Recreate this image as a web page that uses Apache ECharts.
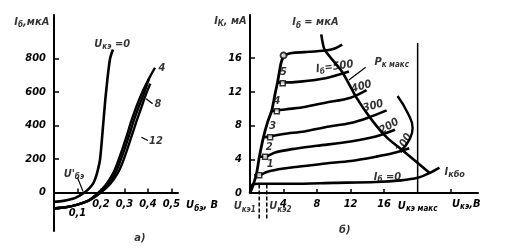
<!DOCTYPE html>
<html><head><meta charset="utf-8">
<script src="https://cdn.jsdelivr.net/npm/echarts@6/dist/echarts.min.js"></script>
<style>html,body{margin:0;padding:0;background:#fff}#c{width:511px;height:249px}</style>
</head><body><div id="c"></div>
<script>
// ---------- chart а) : I_б vs U_бэ ----------
const aXTickValues = [0.1, 0.2, 0.3, 0.4, 0.5];
const aXTickLabels = ['0,1', '0,2', '0,3', '0,4', '0,5'];
const aYTickValues = [0, 200, 400, 600, 800];
const aYTickLabels = ['0', '200', '400', '600', '800'];
const aCurveU0 = [[0,-55],[0.04,-50],[0.08,-38],[0.11,-18],[0.13,0],[0.15,25],[0.165,50],[0.175,80],[0.185,125],[0.196,197],[0.209,400],[0.221,590],[0.238,794],[0.251,854]];
const aCurveU4 = [[0,-95],[0.05,-88],[0.1,-72],[0.15,-45],[0.19,0],[0.22,45],[0.25,110],[0.27,175],[0.29,255],[0.31,340],[0.33,430],[0.35,510],[0.37,580],[0.39,640],[0.41,695],[0.43,745]];
const aCurveU8 = [[0,-95],[0.05,-88],[0.1,-72],[0.15,-46],[0.195,0],[0.23,50],[0.26,112],[0.28,178],[0.3,258],[0.32,342],[0.34,430],[0.36,508],[0.38,580],[0.395,640],[0.405,680]];
const aCurveU12 = [[0,-95],[0.05,-88],[0.1,-72],[0.15,-47],[0.2,0],[0.24,52],[0.27,112],[0.29,172],[0.31,250],[0.33,335],[0.35,420],[0.37,500],[0.39,580],[0.41,650]];
const aLeaderUbe = [[0.1,90],[0.124,5]];
const aLeader8 = [[0.392,560],[0.42,530]];
const aLeader12 = [[0.372,330],[0.4,310]];
const aTexts = [
  [-0.02, 1020, 'I{s|б},мкА', 'right', 0],
  [0.248, 885, 'U{s|кэ} =0', 'center', 0],
  [0.445, 745, '4', 'left', 0],
  [0.428, 525, '8', 'left', 0],
  [0.405, 305, '12', 'left', 0],
  [0.085, 108, "U'{s|бэ}", 'center', 0],
  [0.366, -270, 'а)', 'center', 0]
];
const aXName = 'U{s|бэ}, В';

// ---------- chart б) : I_к vs U_кэ ----------
const bXTickValues = [4, 8, 12, 16, 20];
const bXTickLabels = ['4', '8', '12', '16', 'U{s|кэ макс}'];
const bXTickMarks = [4, 8, 12, 16, 24];
const bYTickValues = [0, 4, 8, 12, 16];
const bYTickLabels = ['0', '4', '8', '12', '16'];
const bBoundary = [[0,0],[0.4,1.0],[0.8,2.4],[1.1,4.2],[1.6,6.6],[2.1,8.4],[2.6,9.8],[3.0,11.8],[3.3,13.2],[3.7,15.4],[4,16.3]];
const bCurveTop = [[4,16.3],[5,16.6],[6.5,16.7],[9,16.9],[10,17.1],[11,17.6]];
const bCurve500 = [[3.3,13.1],[3.9,13.1],[6,13.2],[9,13.6],[11.8,14.4]];
const bCurve400 = [[2.6,9.7],[3.2,9.8],[5,10.0],[6.5,10.2],[9,10.7],[12,11.3],[13.9,12.2]];
const bCurve300 = [[1.6,6.6],[2.4,6.7],[4,7.0],[6.5,7.3],[9,7.8],[12,8.3],[14,8.9],[16.3,9.8]];
const bCurve200 = [[1.1,4.3],[1.8,4.3],[3,4.8],[5,5.2],[8,5.6],[12,6.1],[15,6.7],[17.3,7.5]];
const bCurve100 = [[0.5,2.1],[1.1,2.1],[2,2.5],[4,2.9],[6.5,3.2],[9,3.5],[12,3.8],[15,4.3],[17,4.7],[19,5.3]];
const bCurve0 = [[0,0],[0.3,1.0],[1,1.1],[5,1.1],[10,1.2],[15,1.3],[18,1.5],[20,1.8],[21.5,2.4],[22.6,3.0]];
const bPkMax = [[8.5,18.8],[8.9,17.0],[11,14.35],[12.7,11.3],[14.5,8.7],[16.4,6.5],[18.4,4.9],[21.4,2.4]];
const bArc = [[17.6,11.5],[18.8,9.5],[19.4,7.7],[19.0,6.3],[18.1,5.1]];
const bUceMax = [[20,0],[20,17.8]];
const bDash1 = [[1.1,1.0],[1.1,-3.2]];
const bDash2 = [[2.0,1.0],[2.0,-3.2]];
const bPkLeader = [[13.8,14.9],[11.8,13.4]];
const bKneeSquares = [[1.1,2.1],[1.8,4.3],[2.4,6.6],[3.2,9.7],[3.9,13.0]];
const bKneeCircle = [[4,16.3]];
const bTexts = [
  [-0.4, 20.4, 'I{s|К}, мА', 'right', 0],
  [7.8, 20.2, 'I{s|б} = мкА', 'center', 0],
  [10.1, 14.95, 'I{s|б}=500', 'center', 8],
  [16.9, 15.5, 'P{s|к макс}', 'center', 0],
  [13.3, 12.6, '400', 'center', 15],
  [14.7, 10.3, '300', 'center', 15],
  [16.6, 7.9, '200', 'center', 30],
  [18.4, 5.9, '100', 'center', 60],
  [16.4, 1.9, 'I{s|б} =0', 'center', 0],
  [23.2, 2.5, 'I{m|кбо}', 'left', 0],
  [4.0, 14.3, '5', 'center', 0],
  [3.2, 10.9, '4', 'center', 0],
  [2.7, 7.9, '3', 'center', 0],
  [2.3, 5.4, '2', 'center', 0],
  [2.4, 3.4, '1', 'center', 0],
  [0.7, -1.6, 'U{s|кэ1}', 'right', 0],
  [2.3, -1.6, 'U{s|кэ2}', 'left', 0],
  [11.3, -4.4, 'б)', 'center', 0]
];
const bXName = 'U{s|кэ},В';

// ---------- styles ----------
const FONT = '"Liberation Sans Narrow","DejaVu Sans Condensed","Liberation Sans",sans-serif';
const txt = {color:'#000', fontFamily:FONT, fontStyle:'italic', fontWeight:'bold', fontSize:11};
const rich = {
  s: Object.assign({}, txt, {fontSize:8, padding:[6,0,0,0]}),
  m: Object.assign({}, txt, {fontSize:9, padding:[6,0,0,0]})
};
const axisLine = {show:true, onZero:true, lineStyle:{color:'#000', width:2}};

function ln(data, gi, w, extra) {
  return Object.assign({type:'line', xAxisIndex:gi, yAxisIndex:gi, data:data, showSymbol:false, symbol:'none',
    smooth:0.3, clip:false, animation:false, silent:true, lineStyle:{color:'#000', width:w}}, extra || {});
}
function texts(arr, gi) {
  return {type:'scatter', xAxisIndex:gi, yAxisIndex:gi, symbolSize:1, itemStyle:{color:'rgba(0,0,0,0)'}, clip:false,
    animation:false, silent:true, z:6,
    data: arr.map(t => ({value:[t[0], t[1]], label:Object.assign({show:true, position:'inside', formatter:t[2], align:t[3], verticalAlign:'middle', rotate:t[4], rich:rich}, txt)}))};
}

const chart = echarts.init(document.getElementById('c'), null, {renderer:'canvas'});
chart.setOption({
  backgroundColor:'#fff',
  animation:false,
  grid:[
    {left:54, top:15, width:124, height:216, containLabel:false, outerBoundsMode:'none'},
    {left:250, top:15, width:228, height:178, containLabel:false, outerBoundsMode:'none'}
  ],
  xAxis:[
    {gridIndex:0, type:'value', min:0, max:0.528, axisLine:axisLine, splitLine:{show:false},
     axisTick:{show:true, inside:true, length:4, lineStyle:{color:'#000', width:1.5}, customValues:aXTickValues},
     axisLabel:Object.assign({show:true, margin:-32, customValues:aXTickValues, rich:Object.assign({}, rich, {low:Object.assign({}, txt, {padding:[9,0,0,0]})}),
       formatter:(v)=>{const i=aXTickValues.findIndex(x=>Math.abs(x-v)<1e-6); const l=aXTickLabels[i]; return i===0?'{low|'+l+'}':l;}}, txt),
     name:aXName, nameLocation:'end', nameGap:5, nameTextStyle:Object.assign({rich:rich, padding:[26,0,0,0]}, txt)},
    {gridIndex:1, type:'value', min:0, max:27.2, axisLine:axisLine, splitLine:{show:false},
     axisTick:{show:true, inside:true, length:4, lineStyle:{color:'#000', width:1.5}, customValues:bXTickMarks},
     axisLabel:Object.assign({show:true, margin:6, customValues:bXTickValues, rich:rich,
       formatter:(v)=>bXTickLabels[bXTickValues.findIndex(x=>Math.abs(x-v)<1e-6)]}, txt),
     name:bXName, nameLocation:'end', nameGap:-26, nameTextStyle:Object.assign({rich:rich, padding:[22,0,0,0], align:'left'}, txt)}
  ],
  yAxis:[
    {gridIndex:0, type:'value', min:-230, max:1060, axisLine:axisLine, splitLine:{show:false},
     axisTick:{show:true, inside:true, length:5, lineStyle:{color:'#000', width:1.5}, customValues:[200,400,600,800]},
     axisLabel:Object.assign({show:true, margin:8, customValues:aYTickValues,
       formatter:(v)=>aYTickLabels[aYTickValues.findIndex(x=>Math.abs(x-v)<1e-6)]}, txt)},
    {gridIndex:1, type:'value', min:0, max:21.1, axisLine:axisLine, splitLine:{show:false},
     axisTick:{show:true, inside:true, length:5, lineStyle:{color:'#000', width:1.5}, customValues:[4,8,12,16]},
     axisLabel:Object.assign({show:true, margin:8, customValues:bYTickValues,
       formatter:(v)=>bYTickLabels[bYTickValues.findIndex(x=>Math.abs(x-v)<1e-6)]}, txt)}
  ],
  series:[
    ln(aCurveU0, 0, 2.6),
    ln(aCurveU4, 0, 2.4),
    ln(aCurveU8, 0, 2.4),
    ln(aCurveU12, 0, 2.4),
    ln(aLeaderUbe, 0, 1.2, {smooth:false}),
    ln(aLeader8, 0, 1.2, {smooth:false}),
    ln(aLeader12, 0, 1.2, {smooth:false}),
    texts(aTexts, 0),
    ln(bBoundary, 1, 2.8, {smooth:0.2}),
    ln(bCurveTop, 1, 2.6),
    ln(bCurve500, 1, 2.6),
    ln(bCurve400, 1, 2.6),
    ln(bCurve300, 1, 2.6),
    ln(bCurve200, 1, 2.6),
    ln(bCurve100, 1, 2.6),
    ln(bCurve0, 1, 2.6),
    ln(bPkMax, 1, 2.6, {smooth:0.2}),
    ln(bArc, 1, 2.4, {smooth:0.5}),
    ln(bUceMax, 1, 1.5, {smooth:false}),
    ln(bDash1, 1, 1.5, {smooth:false, lineStyle:{color:'#000', width:1.5, type:[4,2]}}),
    ln(bDash2, 1, 1.5, {smooth:false, lineStyle:{color:'#000', width:1.5, type:[4,2]}}),
    ln(bPkLeader, 1, 1.2, {smooth:false}),
    {type:'scatter', xAxisIndex:1, yAxisIndex:1, data:bKneeSquares, symbol:'rect', symbolSize:5, animation:false, silent:true, z:5,
     itemStyle:{color:'#fff', borderColor:'#000', borderWidth:1.5}},
    {type:'scatter', xAxisIndex:1, yAxisIndex:1, data:bKneeCircle, symbol:'circle', symbolSize:6, animation:false, silent:true, z:5,
     itemStyle:{color:'#fff', borderColor:'#000', borderWidth:1.8}},
    texts(bTexts, 1)
  ]
});
</script></body></html>
